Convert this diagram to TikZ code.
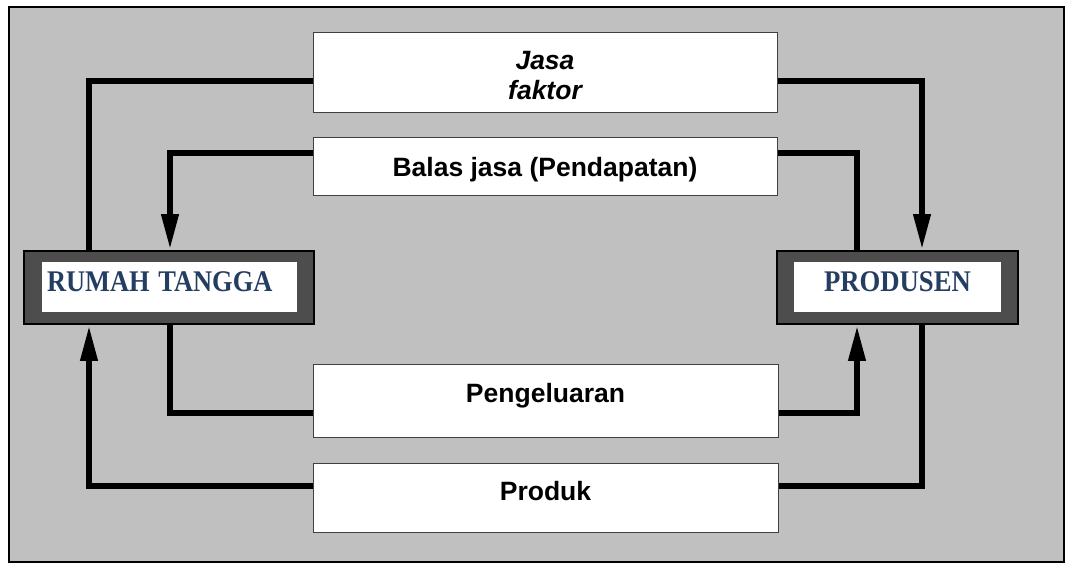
\documentclass[tikz,border=0pt]{standalone}
\usepackage{fontspec}
\setmainfont{Liberation Sans}
\newfontfamily\rtserif{Liberation Serif}
\usetikzlibrary{arrows.meta}
\definecolor{bgray}{RGB}{192,192,192}
\definecolor{ngray}{RGB}{77,77,77}
\definecolor{bordgray}{RGB}{64,64,64}
\definecolor{nblue}{RGB}{36,62,98}
\tikzset{
  flowbox/.style={draw=bordgray, line width=1pt, fill=white, inner sep=0pt,
    font=\fontsize{26.5}{30}\selectfont\bfseries, align=center},
  actor/.style={draw=black, line width=1.5pt, fill=ngray, inner sep=0pt},
  actorin/.style={fill=white, inner sep=0pt, text=nblue,
    font=\rtserif\fontsize{30}{34}\selectfont\bfseries, text height=20pt, text depth=12pt},
  flow/.style={line width=6.5pt},
  arr/.style={-{Triangle[length=36pt,width=16pt]}}
}
\begin{document}
\begin{tikzpicture}[x=1pt,y=-1pt]
\useasboundingbox (0,0) rectangle (1065,564);
\draw[fill=bgray, draw=black, line width=1.5pt] (9,7) rectangle (1064,562);

% flow boxes
\node[flowbox, minimum width=464pt, minimum height=80pt, text height=54pt, text depth=0pt] (jasa) at (545,73) {\itshape Jasa\\\itshape faktor};
\node[flowbox, minimum width=464pt, minimum height=58pt, text height=20pt, text depth=0pt] (bal) at (545,167) {Balas jasa (Pendapatan)};
\node[flowbox, minimum width=465pt, minimum height=73pt, text height=19pt, text depth=16pt] (peng) at (545.5,400.5) {Pengeluaran};
\node[flowbox, minimum width=465pt, minimum height=69pt, text height=19pt, text depth=14pt] (prod) at (545.5,497.5) {Produk};

% actors
\node[actor, minimum width=290pt, minimum height=73pt] (rt) at (169,287.5) {};
\node[actorin, minimum width=255pt, minimum height=50pt, text width=245pt, align=left] (rtin) at (169.5,287) {\scalebox{0.88}[1]{RUMAH TANGGA}};
\node[actor, minimum width=241pt, minimum height=73pt] (pr) at (897.5,287.5) {};
\node[actorin, minimum width=207pt, minimum height=50pt] (prin) at (897.5,287) {\scalebox{0.89}[1]{PRODUSEN}};

% connectors
\draw[flow] ([xshift=-80pt]rt.north) |- ([yshift=-8pt]jasa.west);
\draw[flow,arr] ([yshift=-8pt]jasa.east) -| ([xshift=24.5pt]pr.north);
\draw[flow] ([xshift=-40.5pt]pr.north) |- ([yshift=14pt]bal.east);
\draw[flow,arr] ([yshift=14pt]bal.west) -| ([xshift=1pt]rt.north);
\draw[flow] ([xshift=1pt]rt.south) |- ([yshift=-12.5pt]peng.west);
\draw[flow,arr] ([yshift=-12.5pt]peng.east) -| ([xshift=-40.5pt]pr.south);
\draw[flow] ([xshift=24.5pt]pr.south) |- ([yshift=11.5pt]prod.east);
\draw[flow,arr] ([yshift=11.5pt]prod.west) -| ([xshift=-80pt]rt.south);
\end{tikzpicture}
\end{document}
